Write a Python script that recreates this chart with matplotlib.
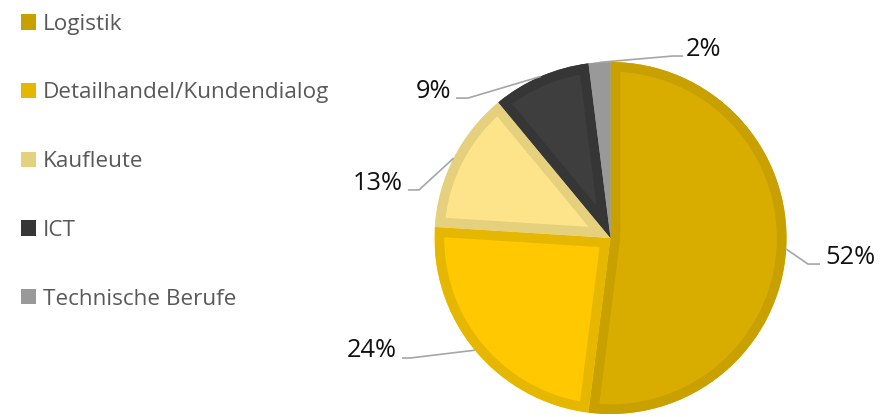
import numpy as np
import matplotlib
matplotlib.use('Agg')
import matplotlib.pyplot as plt
from matplotlib.patches import Patch, PathPatch

plt.rcParams['font.family'] = ['Open Sans', 'DejaVu Sans']

# data
categories = ['Logistik', 'Detailhandel/Kundendialog', 'Kaufleute', 'ICT', 'Technische Berufe']
shares = [52, 24, 13, 9, 2]
pct_labels = ['52%', '24%', '13%', '9%', '2%']

face_colors = ['#D9AD00', '#FFC800', '#FDE389', '#3E3E3E', '#999999']
edge_colors = ['#C8A000', '#E6B700', '#E5D07D', '#363636', '#999999']

# label layout (axes data units, radius = 1): elbow, line end, text anchor
elbows = [(1.122, -0.148), (-1.139, -0.682), (-1.088, 0.273), (-0.810, 0.795), (0.355, 1.034)]
ends = [(1.190, -0.148), (-1.185, -0.682), (-1.151, 0.273), (-0.878, 0.795), (0.412, 1.034)]
text_pos = [(1.219, -0.150), (-1.213, -0.676), (-1.179, 0.273), (-0.906, 0.795), (0.429, 1.034)]

W, H = 886, 417
fig = plt.figure(figsize=(W / 100, H / 100), dpi=100)

cx, cy, r = 610.5, 238, 176
ax = fig.add_axes([(cx - r) / W, (H - cy - r) / H, 2 * r / W, 2 * r / H])

wedges, _ = ax.pie(shares, colors=face_colors, startangle=90, counterclock=False,
                   radius=1, wedgeprops=dict(linewidth=0))

# inner border: stroke each slice outline and clip it to the slice
for w, ec in zip(wedges, edge_colors):
    path = w.get_path()
    border = PathPatch(path, facecolor='none', edgecolor=ec, lw=14,
                       joinstyle='miter', transform=ax.transData)
    ax.add_patch(border)
    border.set_clip_path(path, ax.transData)

ax.set_xlim(-1, 1)
ax.set_ylim(-1, 1)
ax.set_aspect('auto')
ax.axis('off')

for w, lab, el, en, tp in zip(wedges, pct_labels, elbows, ends, text_pos):
    mid = np.deg2rad((w.theta1 + w.theta2) / 2)
    start = (np.cos(mid), np.sin(mid))
    ax.plot([start[0], el[0], en[0]], [start[1], el[1], en[1]], color='#A6A6A6',
            lw=1.2, clip_on=False, solid_capstyle='butt')
    ha = 'left' if tp[0] > 0 else 'right'
    ax.text(tp[0], tp[1], lab, ha=ha, va='baseline', fontsize=18.3, color='#111111', clip_on=False)

handles = [Patch(facecolor=c, edgecolor='none') for c in edge_colors]
fig.legend(handles, categories, loc='upper left', bbox_to_anchor=(5 / W, 1 + 2 / H),
           frameon=False, fontsize=16.2, labelcolor='#595959', handlelength=0.68,
           handleheight=0.68, handletextpad=0.3, labelspacing=2.12, borderpad=0.2)

fig.savefig('out.png', dpi=100)
